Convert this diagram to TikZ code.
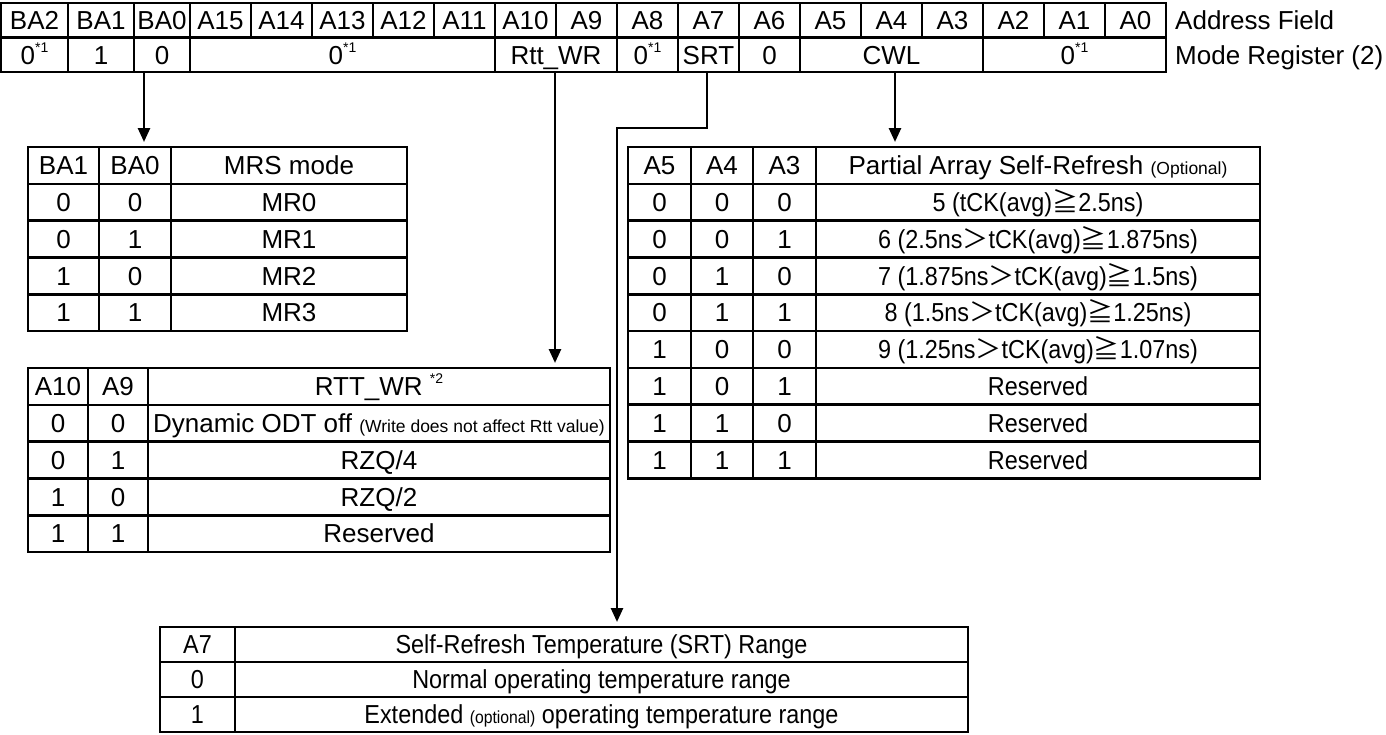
\documentclass[tikz,border=0pt]{standalone}
\usepackage{fontspec}
\setmainfont{Liberation Sans}
\newfontfamily\narrowsans[FakeStretch=0.9]{Liberation Sans}
\newfontfamily\cjk{Noto Sans CJK JP}
\usepackage{tikz}
\usetikzlibrary{arrows.meta, positioning, calc}
\definecolor{gridblack}{RGB}{0,0,0}
\tikzset{
  cellbox/.style={rectangle, draw=gridblack, line width=2.6pt,
    inner sep=0pt, outer sep=0pt, text height=18.6pt, text depth=0pt,
    font=\fontsize{26}{28}\selectfont},
  bitcell/.style={cellbox, minimum width=61pt, minimum height=34.5pt},
  rowcell/.style={cellbox, minimum height=36.8pt},
  narrowcell/.style={rowcell, font=\narrowsans\fontsize{26}{28}\selectfont},
  srtcell/.style={cellbox, minimum height=35pt, font=\narrowsans\fontsize{26}{28}\selectfont},
  sidelabel/.style={inner sep=0pt, anchor=west, text height=18.6pt, text depth=0pt,
    font=\fontsize{26}{28}\selectfont},
  arrow/.style={-{Triangle[length=14pt,width=12pt]}, line width=2.6pt,
    color=gridblack, shorten >=5pt}
}
\newcommand{\noteone}{\raisebox{12pt}[0pt][0pt]{\fontsize{14}{14}\selectfont *1}}
\newcommand{\notetwo}{\raisebox{12pt}[0pt][0pt]{\fontsize{14}{14}\selectfont *2}}
\newcommand{\smalltxt}[1]{{\fontsize{17.5}{17.5}\selectfont #1}}
\newcommand{\cjkgeq}{{\cjk ≧}}
\newcommand{\cjkgt}{{\cjk ＞}}

\begin{document}
\begin{tikzpicture}[x=1pt, y=-1pt]
  \useasboundingbox (0,0) rectangle (1386,734);

  % address field row
  \node[bitcell, minimum width=67pt] (ba2) at (34.5,20.25) {BA2};
  \node[bitcell, minimum width=66pt] (ba1) at (101,20.25) {BA1};
  \node[bitcell, minimum width=56pt] (ba0) at (162,20.25) {BA0};
  \node[bitcell] (a15) at (220.5,20.25) {A15};
  \node[bitcell] (a14) at (281.5,20.25) {A14};
  \node[bitcell] (a13) at (342.5,20.25) {A13};
  \node[bitcell] (a12) at (403.5,20.25) {A12};
  \node[bitcell] (a11) at (464.5,20.25) {A11};
  \node[bitcell] (a10) at (525.5,20.25) {A10};
  \node[bitcell] (a9) at (586.5,20.25) {A9};
  \node[bitcell] (a8) at (647.5,20.25) {A8};
  \node[bitcell] (a7) at (708.5,20.25) {A7};
  \node[bitcell] (a6) at (769.5,20.25) {A6};
  \node[bitcell] (a5) at (830.5,20.25) {A5};
  \node[bitcell] (a4) at (891.5,20.25) {A4};
  \node[bitcell] (a3) at (952.5,20.25) {A3};
  \node[bitcell] (a2) at (1013.5,20.25) {A2};
  \node[bitcell] (a1) at (1074.5,20.25) {A1};
  \node[bitcell] (a0) at (1135.5,20.25) {A0};
  \node[sidelabel] (addr) at (1175,20.25) {Address Field};

  % mode register row
  \node[bitcell, minimum width=67pt] (v2) at (34.5,54.75) {0\noteone};
  \node[bitcell, minimum width=66pt] (v1) at (101,54.75) {1};
  \node[bitcell, minimum width=56pt] (v0) at (162,54.75) {0};
  \node[bitcell, minimum width=305pt] (vhi) at (342.5,54.75) {0\noteone};
  \node[bitcell, minimum width=122pt] (vrtt) at (556,54.75) {Rtt\_WR};
  \node[bitcell] (va8) at (647.5,54.75) {0\noteone};
  \node[bitcell] (vsrt) at (708.5,54.75) {SRT};
  \node[bitcell] (va6) at (769.5,54.75) {0};
  \node[bitcell, minimum width=183pt] (vcwl) at (891.5,54.75) {CWL};
  \node[bitcell, minimum width=183pt] (vlo) at (1074.5,54.75) {0\noteone};
  \node[sidelabel] (mreg) at (1175,54.75) {Mode Register (2)};

  % MRS mode table
  \node[rowcell, minimum width=71pt] (mba1) at (63.5,165.4) {BA1};
  \node[rowcell, minimum width=72pt] (mba0) at (135,165.4) {BA0};
  \node[rowcell, minimum width=236pt] (mmode) at (289,165.4) {MRS mode};
  \node[rowcell, minimum width=71pt] (m0a) at (63.5,202.2) {0};
  \node[rowcell, minimum width=72pt] (m0b) at (135,202.2) {0};
  \node[rowcell, minimum width=236pt] (m0c) at (289,202.2) {MR0};
  \node[rowcell, minimum width=71pt] (m1a) at (63.5,239) {0};
  \node[rowcell, minimum width=72pt] (m1b) at (135,239) {1};
  \node[rowcell, minimum width=236pt] (m1c) at (289,239) {MR1};
  \node[rowcell, minimum width=71pt] (m2a) at (63.5,275.8) {1};
  \node[rowcell, minimum width=72pt] (m2b) at (135,275.8) {0};
  \node[rowcell, minimum width=236pt] (m2c) at (289,275.8) {MR2};
  \node[rowcell, minimum width=71pt] (m3a) at (63.5,312.6) {1};
  \node[rowcell, minimum width=72pt] (m3b) at (135,312.6) {1};
  \node[rowcell, minimum width=236pt] (m3c) at (289,312.6) {MR3};

  % RTT_WR table
  \node[rowcell, minimum width=60pt] (ra10) at (58,386.4) {A10};
  \node[rowcell, minimum width=60pt] (ra9) at (118,386.4) {A9};
  \node[rowcell, minimum width=462pt] (rhead) at (379,386.4) {RTT\_WR \notetwo};
  \node[rowcell, minimum width=60pt] (r0a) at (58,423.2) {0};
  \node[rowcell, minimum width=60pt] (r0b) at (118,423.2) {0};
  \node[rowcell, minimum width=462pt] (r0c) at (379,423.2) {Dynamic ODT off \smalltxt{(Write does not affect Rtt value)}};
  \node[rowcell, minimum width=60pt] (r1a) at (58,460) {0};
  \node[rowcell, minimum width=60pt] (r1b) at (118,460) {1};
  \node[rowcell, minimum width=462pt] (r1c) at (379,460) {RZQ/4};
  \node[rowcell, minimum width=60pt] (r2a) at (58,496.8) {1};
  \node[rowcell, minimum width=60pt] (r2b) at (118,496.8) {0};
  \node[rowcell, minimum width=462pt] (r2c) at (379,496.8) {RZQ/2};
  \node[rowcell, minimum width=60pt] (r3a) at (58,533.6) {1};
  \node[rowcell, minimum width=60pt] (r3b) at (118,533.6) {1};
  \node[rowcell, minimum width=462pt] (r3c) at (379,533.6) {Reserved};

  % CWL table
  \node[rowcell, minimum width=63pt] (pa5) at (659.5,165.4) {A5};
  \node[rowcell, minimum width=62pt] (pa4) at (722,165.4) {A4};
  \node[rowcell, minimum width=63pt] (pa3) at (784.5,165.4) {A3};
  \node[rowcell, minimum width=444pt] (phead) at (1038,165.4) {Partial Array Self-Refresh \smalltxt{(Optional)}};
  \node[rowcell, minimum width=63pt] (p0a) at (659.5,202.2) {0};
  \node[rowcell, minimum width=62pt] (p0b) at (722,202.2) {0};
  \node[rowcell, minimum width=63pt] (p0c) at (784.5,202.2) {0};
  \node[narrowcell, minimum width=444pt] (p0d) at (1038,202.2) {5 (tCK(avg)\cjkgeq2.5ns)};
  \node[rowcell, minimum width=63pt] (p1a) at (659.5,239) {0};
  \node[rowcell, minimum width=62pt] (p1b) at (722,239) {0};
  \node[rowcell, minimum width=63pt] (p1c) at (784.5,239) {1};
  \node[narrowcell, minimum width=444pt] (p1d) at (1038,239) {6 (2.5ns\cjkgt tCK(avg)\cjkgeq1.875ns)};
  \node[rowcell, minimum width=63pt] (p2a) at (659.5,275.8) {0};
  \node[rowcell, minimum width=62pt] (p2b) at (722,275.8) {1};
  \node[rowcell, minimum width=63pt] (p2c) at (784.5,275.8) {0};
  \node[narrowcell, minimum width=444pt] (p2d) at (1038,275.8) {7 (1.875ns\cjkgt tCK(avg)\cjkgeq1.5ns)};
  \node[rowcell, minimum width=63pt] (p3a) at (659.5,312.6) {0};
  \node[rowcell, minimum width=62pt] (p3b) at (722,312.6) {1};
  \node[rowcell, minimum width=63pt] (p3c) at (784.5,312.6) {1};
  \node[narrowcell, minimum width=444pt] (p3d) at (1038,312.6) {8 (1.5ns\cjkgt tCK(avg)\cjkgeq1.25ns)};
  \node[rowcell, minimum width=63pt] (p4a) at (659.5,349.4) {1};
  \node[rowcell, minimum width=62pt] (p4b) at (722,349.4) {0};
  \node[rowcell, minimum width=63pt] (p4c) at (784.5,349.4) {0};
  \node[narrowcell, minimum width=444pt] (p4d) at (1038,349.4) {9 (1.25ns\cjkgt tCK(avg)\cjkgeq1.07ns)};
  \node[rowcell, minimum width=63pt] (p5a) at (659.5,386.2) {1};
  \node[rowcell, minimum width=62pt] (p5b) at (722,386.2) {0};
  \node[rowcell, minimum width=63pt] (p5c) at (784.5,386.2) {1};
  \node[narrowcell, minimum width=444pt] (p5d) at (1038,386.2) {Reserved};
  \node[rowcell, minimum width=63pt] (p6a) at (659.5,423) {1};
  \node[rowcell, minimum width=62pt] (p6b) at (722,423) {1};
  \node[rowcell, minimum width=63pt] (p6c) at (784.5,423) {0};
  \node[narrowcell, minimum width=444pt] (p6d) at (1038,423) {Reserved};
  \node[rowcell, minimum width=63pt] (p7a) at (659.5,459.8) {1};
  \node[rowcell, minimum width=62pt] (p7b) at (722,459.8) {1};
  \node[rowcell, minimum width=63pt] (p7c) at (784.5,459.8) {1};
  \node[narrowcell, minimum width=444pt] (p7d) at (1038,459.8) {Reserved};

  % SRT table
  \node[srtcell, minimum width=75pt] (sa7) at (197.5,644.5) {A7};
  \node[srtcell, minimum width=733pt] (shead) at (601.5,644.5) {Self-Refresh Temperature (SRT) Range};
  \node[srtcell, minimum width=75pt] (s0a) at (197.5,679.5) {0};
  \node[srtcell, minimum width=733pt] (s0b) at (601.5,679.5) {Normal operating temperature range};
  \node[srtcell, minimum width=75pt] (s1a) at (197.5,714.5) {1};
  \node[srtcell, minimum width=733pt] (s1b) at (601.5,714.5) {Extended \smalltxt{(optional)} operating temperature range};

  % connectors
  \coordinate (srtbend) at (617,128);
  \draw[arrow] ([xshift=10pt]v0.south west) -- ([xshift=10pt]v0.south west |- mba0.north);
  \draw[arrow] ([xshift=-1pt]vrtt.south) -- ([xshift=-1pt]vrtt.south |- rhead.north);
  \draw[arrow] ([xshift=-1.5pt]vsrt.south) |- (srtbend) -- (srtbend |- shead.north);
  \draw[arrow] ([xshift=3.5pt]vcwl.south) -- ([xshift=3.5pt]vcwl.south |- phead.north);
\end{tikzpicture}
\end{document}
